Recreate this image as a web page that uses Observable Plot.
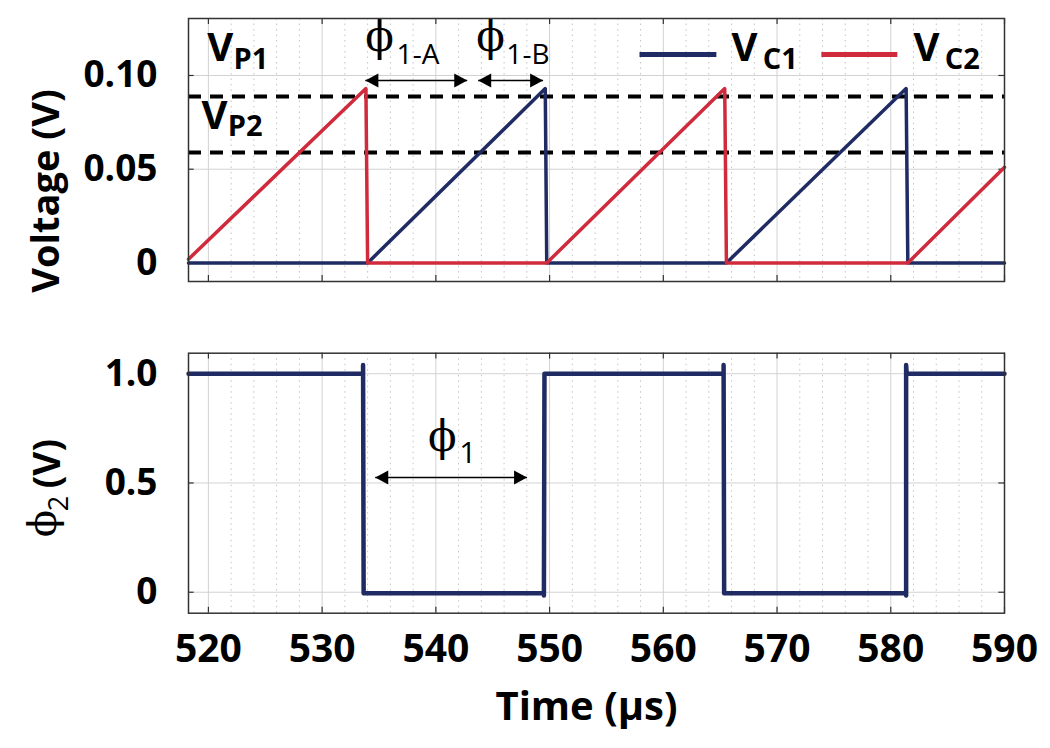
<!DOCTYPE html>
<html>
<head>
<meta charset="utf-8">
<script src="https://cdn.jsdelivr.net/npm/d3@7"></script>
<script src="https://cdn.jsdelivr.net/npm/@observablehq/plot@0.6"></script>
<style>
  body { margin: 0; background: #fff; }
  #chart svg { display: block; }
</style>
</head>
<body>
<div id="chart"></div>
<script>
// ---------------- data ----------------
const timeTicks = [520, 530, 540, 550, 560, 570, 580, 590];
const voltTicks = [0, 0.05, 0.10];
const phiTicks = [0, 0.5, 1.0];

// V_C1 (blue) sawtooth
const vc1Time = [518.25, 534.0, 549.62, 549.75, 565.55, 581.35, 581.5, 590];
const vc1Volt = [0.0, 0.0, 0.093, 0.0, 0.0, 0.093, 0.0, 0.0];

// V_C2 (red) sawtooth
const vc2Time = [518.25, 533.85, 534.0, 549.75, 565.4, 565.55, 581.5, 590];
const vc2Volt = [0.002, 0.093, 0.0, 0.0, 0.093, 0.0, 0.0, 0.051];

// threshold levels
const vpNames = ["P1", "P2"];
const vpLevels = [0.0888, 0.0589];

// phi2 square wave
const phi2Time = [518.25, 533.6, 533.6, 533.65, 549.5, 549.5, 549.55, 565.3, 565.3, 565.35, 581.3, 581.35, 581.35, 581.4, 590];
const phi2Volt = [1.0, 1.0, 1.04, -0.005, -0.005, -0.015, 1.0, 1.0, 1.04, -0.005, -0.005, -0.015, 1.04, 1.0, 1.0];

// legend
const seriesNames = ["C1", "C2"];
const seriesColors = ["#1f2b62", "#cf2b3d"];

// annotation arrows (time spans)
const phiAStart = 533.8, phiAEnd = 542.76;
const phiBStart = 543.72, phiBEnd = 549.43;
const phi1Start = 534.67, phi1End = 548.02;

// ---------------- helpers ----------------
const SANS = "'Open Sans', 'Liberation Sans', sans-serif";
const SERIF = "'DejaVu Serif', 'Liberation Serif', serif";
const X_DOMAIN = [518.25, 590];
const V_DOMAIN = [-0.0099, 0.1304];
const P_DOMAIN = [-0.096, 1.094];
const GRID = "#d2d2d2";
const MINOR = "#c4c4c4";
const minorTicks = d3.range(522, 590, 2).filter(d => d % 10 !== 0);

const leftHead = {draw(ctx) { ctx.moveTo(0, 0); ctx.lineTo(13, -7); ctx.lineTo(13, 7); ctx.closePath(); }};
const rightHead = {draw(ctx) { ctx.moveTo(0, 0); ctx.lineTo(-13, -7); ctx.lineTo(-13, 7); ctx.closePath(); }};

function arrowMarks(spans) {
  return [
    Plot.link(spans, {x1: "x1", x2: "x2", y1: "y", y2: "y", stroke: "#000", strokeWidth: 1.5}),
    Plot.dot(spans, {x: "x1", y: "y", symbol: leftHead, fill: "#000", stroke: "none", r: 5}),
    Plot.dot(spans, {x: "x2", y: "y", symbol: rightHead, fill: "#000", stroke: "none", r: 5})
  ];
}

function frameTicks(xd, yd, xlen, ylen, yt) {
  return [
    Plot.ruleX(timeTicks, {x: d => d, y1: yd[0], y2: yd[0] + ylen, stroke: "#333", strokeWidth: 1.2}),
    Plot.ruleX(timeTicks, {x: d => d, y1: yd[1], y2: yd[1] - ylen, stroke: "#333", strokeWidth: 1.2}),
    Plot.ruleY(yt, {y: d => d, x1: xd[0], x2: xd[0] + xlen, stroke: "#333", strokeWidth: 1.2}),
    Plot.ruleY(yt, {y: d => d, x1: xd[1], x2: xd[1] - xlen, stroke: "#333", strokeWidth: 1.2})
  ];
}

const vc1 = vc1Time.map((t, i) => ({t, v: vc1Volt[i]}));
const vc2 = vc2Time.map((t, i) => ({t, v: vc2Volt[i]}));
const phi2 = phi2Time.map((t, i) => ({t, v: phi2Volt[i]}));

// ---------------- top panel ----------------
const topPlot = Plot.plot({
  width: 1050, height: 300,
  marginLeft: 188, marginRight: 46, marginTop: 18, marginBottom: 19,
  x: {domain: X_DOMAIN, axis: null},
  y: {domain: V_DOMAIN},
  style: {fontFamily: SANS, fontWeight: "bold", color: "#000", background: "#fff", overflow: "visible"},
  marks: [
    Plot.ruleX(minorTicks, {x: d => d, stroke: MINOR, strokeDasharray: "1.5,4"}),
    Plot.ruleX(timeTicks, {x: d => d, stroke: GRID}),
    Plot.ruleY(voltTicks, {y: d => d, stroke: GRID}),
    ...frameTicks(X_DOMAIN, V_DOMAIN, 0.5, 0.0032, voltTicks),
    Plot.ruleY(vpLevels, {y: d => d, stroke: "#000", strokeWidth: 4, strokeDasharray: "13,9"}),
    Plot.line(vc1, {x: "t", y: "v", stroke: seriesColors[0], strokeWidth: 3.5}),
    Plot.line(vc2, {x: "t", y: "v", stroke: seriesColors[1], strokeWidth: 3.5}),
    // legend
    Plot.ruleY([0.1112], {x1: 557.95, x2: 564.71, stroke: seriesColors[0], strokeWidth: 5}),
    Plot.ruleY([0.1112], {x1: 573.94, x2: 580.62, stroke: seriesColors[1], strokeWidth: 5}),
    Plot.text(["V", "V"], {x: [566.0, 582.0], y: [0.1147, 0.1147], text: d => d, fontSize: 40, textAnchor: "start", lineAnchor: "middle", fill: "#000"}),
    Plot.text(seriesNames, {x: [568.75, 584.75], y: [0.1085, 0.1085], text: d => d, fontSize: 29, textAnchor: "start", lineAnchor: "middle", fill: "#000"}),
    // V_P labels
    Plot.text(["V", "V"], {x: [519.9, 519.4], y: [0.1147, 0.0784], text: d => d, fontSize: 40, textAnchor: "start", lineAnchor: "middle", fill: "#000"}),
    Plot.text(vpNames, {x: [522.2, 521.7], y: [0.1085, 0.0725], text: d => d, fontSize: 29, textAnchor: "start", lineAnchor: "middle", fill: "#000"}),
    // phi 1-A / 1-B
    ...arrowMarks([{x1: phiAStart, x2: phiAEnd, y: 0.0973}, {x1: phiBStart, x2: phiBEnd, y: 0.0973}]),
    Plot.text(["ϕ", "ϕ"], {x: [533.8, 543.55], y: [0.1200, 0.1200], text: d => d, fontFamily: SERIF, fontWeight: "normal", fontSize: 42, textAnchor: "start", lineAnchor: "middle", fill: "#000"}),
    Plot.text(["1-A", "1-B"], {x: [536.55, 546.2], y: [0.1110, 0.1110], text: d => d, fontWeight: "normal", fontSize: 28, textAnchor: "start", lineAnchor: "middle", fill: "#000"}),
    Plot.axisY({ticks: voltTicks, tickFormat: d => d === 0 ? "0" : d.toFixed(2), tickSize: 0, tickPadding: 31, fontSize: 37, fontWeight: "bold", label: null}),
    Plot.text(["Voltage (V)"], {frameAnchor: "left", rotate: -90, dx: -142, dy: 41, text: d => d, fontSize: 38, fontWeight: "bold", textAnchor: "middle", lineAnchor: "middle", fill: "#000"}),
    Plot.frame({stroke: "#333", strokeWidth: 1.5})
  ]
});

// ---------------- bottom panel ----------------
const bottomPlot = Plot.plot({
  width: 1050, height: 448,
  marginLeft: 188, marginRight: 46, marginTop: 52.7, marginBottom: 135.3,
  x: {domain: X_DOMAIN},
  y: {domain: P_DOMAIN},
  style: {fontFamily: SANS, fontWeight: "bold", color: "#000", background: "#fff", overflow: "visible"},
  marks: [
    Plot.ruleX(minorTicks, {x: d => d, stroke: MINOR, strokeDasharray: "1.5,4"}),
    Plot.ruleX(timeTicks, {x: d => d, stroke: GRID}),
    Plot.ruleY(phiTicks, {y: d => d, stroke: GRID}),
    ...frameTicks(X_DOMAIN, P_DOMAIN, 0.5, 0.027, phiTicks),
    Plot.line(phi2, {x: "t", y: "v", stroke: seriesColors[0], strokeWidth: 4.5}),
    ...arrowMarks([{x1: phi1Start, x2: phi1End, y: 0.525}]),
    Plot.text(["ϕ"], {x: [539.3], y: [0.708], text: d => d, fontFamily: SERIF, fontWeight: "normal", fontSize: 42, textAnchor: "start", lineAnchor: "middle", fill: "#000"}),
    Plot.text(["1"], {x: [542.05], y: [0.635], text: d => d, fontWeight: "normal", fontSize: 30, textAnchor: "start", lineAnchor: "middle", fill: "#000"}),
    Plot.axisY({ticks: phiTicks, tickFormat: d => d === 0 ? "0" : d.toFixed(1), tickSize: 0, tickPadding: 31, fontSize: 37, fontWeight: "bold", label: null}),
    Plot.axisX({ticks: timeTicks, tickFormat: d => String(d), tickSize: 0, tickPadding: 21, fontSize: 39, fontWeight: "bold", label: null}),
    Plot.text(["Time (µs)"], {frameAnchor: "bottom", dx: -10, dy: 78, text: d => d, fontSize: 40, fontWeight: "bold", textAnchor: "middle", lineAnchor: "top", fill: "#000"}),
    // y title: ϕ2 (V)
    Plot.text(["ϕ"], {frameAnchor: "left", rotate: -90, dx: -145, dy: 54, text: d => d, fontFamily: SERIF, fontWeight: "normal", fontSize: 40, textAnchor: "start", lineAnchor: "middle", fill: "#000"}),
    Plot.text(["2"], {frameAnchor: "left", rotate: -90, dx: -129, dy: 28, text: d => d, fontWeight: "normal", fontSize: 27, textAnchor: "start", lineAnchor: "middle", fill: "#000"}),
    Plot.text(["(V)"], {frameAnchor: "left", rotate: -90, dx: -140, dy: 5, text: d => d, fontWeight: "bold", fontSize: 37, textAnchor: "start", lineAnchor: "middle", fill: "#000"}),
    Plot.frame({stroke: "#333", strokeWidth: 1.5})
  ]
});

const chart = document.getElementById("chart");
chart.appendChild(topPlot);
chart.appendChild(bottomPlot);
</script>
</body>
</html>
